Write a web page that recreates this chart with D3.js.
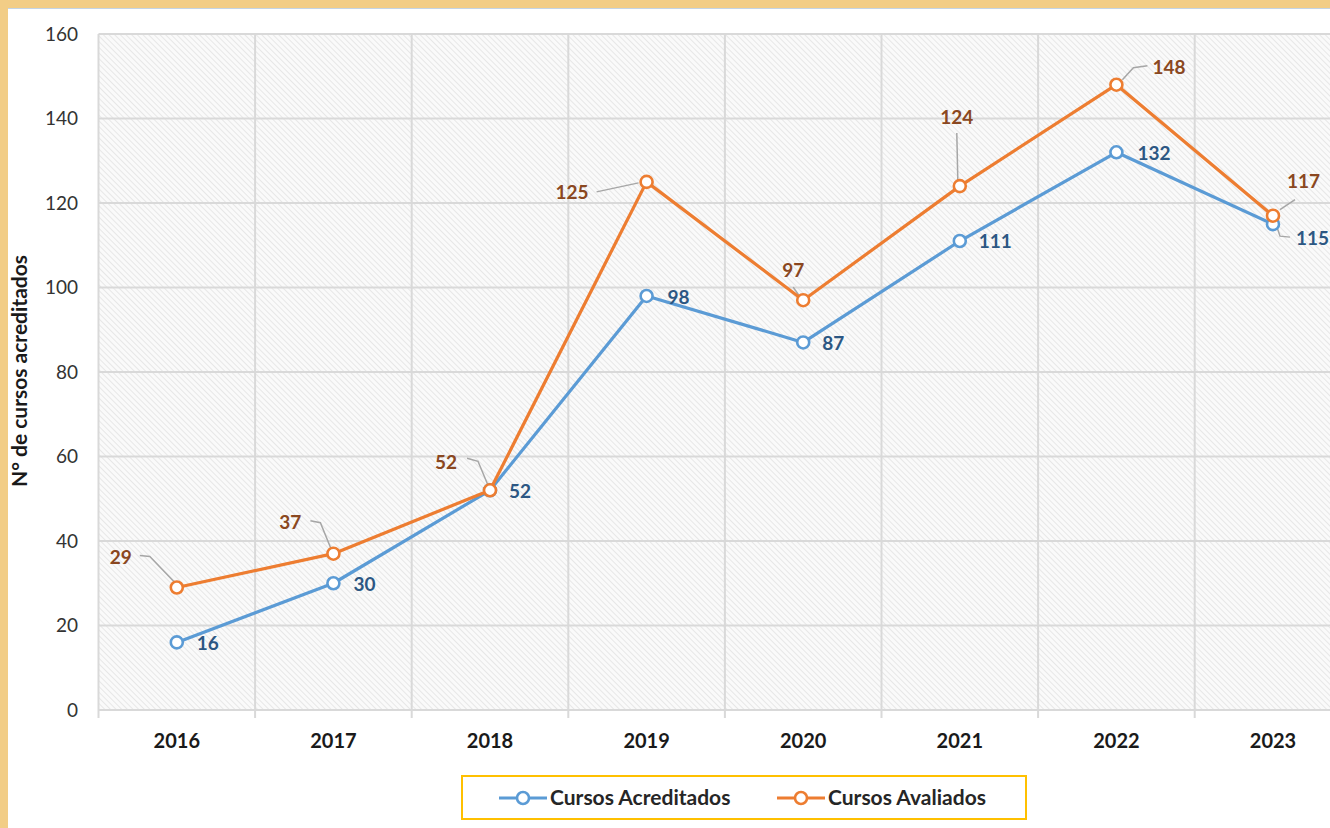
<!DOCTYPE html>
<html>
<head>
<meta charset="utf-8">
<script src="https://cdn.jsdelivr.net/npm/d3@7"></script>
<style>
  body { margin: 0; background: #fff; }
  svg { display: block; font-family: Lato, "Open Sans", sans-serif; }
</style>
</head>
<body>
<div id="chart"></div>
<script>
// data
var years = ["2016", "2017", "2018", "2019", "2020", "2021", "2022", "2023"];
var acreditados = [16, 30, 52, 98, 87, 111, 132, 115];
var avaliados = [29, 37, 52, 125, 97, 124, 148, 117];
var yTicks = [0, 20, 40, 60, 80, 100, 120, 140, 160];

// label placement relative to each point: [dx, dy, leader points]
var blueLabelPos = [
    [20, 1], [20, 1], [19, 1], [21, 1], [19, 1], [19, 0], [21, 1],
    [23, 14, [[4, 3], [7, 12], [17, 13]]]
];
var orangeLabelPos = [
    [-45, -30, [[-2, -5], [-27, -31], [-37, -32]]],
    [-32, -31, [[-2, -4], [-13, -31], [-23, -33]]],
    [-33, -28, [[-2, -5], [-12, -29], [-23, -32]]],
    [-58, 10, [[-8, 1], [-50, 10]]],
    [-10, -30, [[-3, -3], [-10, -13]]],
    [-3, -69, [[-2, -6], [-3, -53]]],
    [36, -17, [[6, -5], [17, -17], [31, -19]]],
    [14, -34, [[7, -6], [22, -16]]]
];

var W = 1330, H = 828;
var margin = {top: 34, left: 98.5, bottom: 118};
var bandW = 156.6;

var svg = d3.select("#chart").append("svg")
    .attr("width", W)
    .attr("height", H);

// frame of the screenshot
svg.append("rect").attr("width", W).attr("height", H).attr("fill", "#f2cd86");
svg.append("rect").attr("x", 8).attr("y", 8).attr("width", W).attr("height", H).attr("fill", "#ffffff");
svg.append("line").attr("x1", 8).attr("x2", W).attr("y1", 8.5).attr("y2", 8.5)
    .attr("stroke", "#c3d4e6").attr("stroke-width", 1);

var defs = svg.append("defs");
var pat = defs.append("pattern")
    .attr("id", "hatch")
    .attr("patternUnits", "userSpaceOnUse")
    .attr("width", 4)
    .attr("height", 4)
    .attr("patternTransform", "rotate(-45)");
pat.append("rect").attr("width", 4).attr("height", 4).attr("fill", "#fafafa");
pat.append("line").attr("x1", 0).attr("y1", 0).attr("x2", 0).attr("y2", 4)
    .attr("stroke", "#e0e0e0").attr("stroke-width", 1.4);

var x = d3.scaleBand()
    .domain(years)
    .range([margin.left, margin.left + bandW * years.length]);

var y = d3.scaleLinear()
    .domain([0, 160])
    .range([H - margin.bottom, margin.top]);

var plotBottom = y(0), plotTop = y(160);

svg.append("rect")
    .attr("x", x.range()[0])
    .attr("y", plotTop)
    .attr("width", x.range()[1] - x.range()[0])
    .attr("height", plotBottom - plotTop)
    .attr("fill", "url(#hatch)");

// horizontal gridlines
svg.append("g").selectAll("line")
    .data(yTicks)
    .enter().append("line")
    .attr("x1", x.range()[0]).attr("x2", x.range()[1])
    .attr("y1", function(d) { return y(d); })
    .attr("y2", function(d) { return y(d); })
    .attr("stroke", "#d9d9d9")
    .attr("stroke-width", 2);

// vertical category boundaries with tick marks below axis
var edges = years.map(function(d) { return x(d); });
svg.append("g").selectAll("line")
    .data(edges)
    .enter().append("line")
    .attr("x1", function(d) { return d; }).attr("x2", function(d) { return d; })
    .attr("y1", plotTop).attr("y2", plotBottom + 8)
    .attr("stroke", "#d9d9d9")
    .attr("stroke-width", 2);

// y axis labels
svg.append("g").selectAll("text")
    .data(yTicks)
    .enter().append("text")
    .attr("x", 78)
    .attr("y", function(d) { return y(d); })
    .attr("dy", "0.35em")
    .attr("text-anchor", "end")
    .attr("font-size", 19)
    .attr("fill", "#333333")
    .text(function(d) { return d; });

svg.append("text")
    .attr("transform", "translate(27," + 371 + ") rotate(-90)")
    .attr("text-anchor", "middle")
    .attr("font-size", 21)
    .attr("font-weight", "bold")
    .attr("fill", "#1a1a1a")
    .text("N° de cursos acreditados");

// x axis labels
svg.append("g").selectAll("text")
    .data(years)
    .enter().append("text")
    .attr("x", function(d) { return x(d) + x.bandwidth() / 2; })
    .attr("y", 741)
    .attr("dy", "0.35em")
    .attr("text-anchor", "middle")
    .attr("font-size", 20)
    .attr("font-weight", "bold")
    .attr("fill", "#1a1a1a")
    .text(function(d) { return d; });

var cx = function(d, i) { return x(years[i]) + x.bandwidth() / 2; };
var line = d3.line()
    .x(function(d, i) { return cx(d, i); })
    .y(function(d) { return y(d); });

function drawSeries(values, color, labelColor, pos) {
    var g = svg.append("g");

    // leader lines first
    g.selectAll(".leader")
        .data(values)
        .enter().filter(function(d, i) { return pos[i][2]; })
        .append("polyline")
        .attr("points", function(d) {
            var i = values.indexOf(d);
            var px = cx(d, i), py = y(d);
            return pos[i][2].map(function(p) { return (px + p[0]) + "," + (py + p[1]); }).join(" ");
        })
        .attr("fill", "none")
        .attr("stroke", "#a6a6a6")
        .attr("stroke-width", 1.5);

    g.append("path")
        .datum(values)
        .attr("d", line)
        .attr("fill", "none")
        .attr("stroke", color)
        .attr("stroke-width", 3.2)
        .attr("stroke-linejoin", "round");

    g.selectAll("circle")
        .data(values)
        .enter().append("circle")
        .attr("cx", cx)
        .attr("cy", function(d) { return y(d); })
        .attr("r", 6)
        .attr("fill", "#fff")
        .attr("stroke", color)
        .attr("stroke-width", 2.6);

    g.selectAll(".lbl")
        .data(values)
        .enter().append("text")
        .attr("x", function(d, i) { return cx(d, i) + pos[i][0]; })
        .attr("y", function(d, i) { return y(d) + pos[i][1]; })
        .attr("dy", "0.35em")
        .attr("text-anchor", function(d, i) { return pos[i][0] < 0 && pos[i][0] > -15 ? "middle" : (pos[i][0] < 0 ? "end" : "start"); })
        .attr("font-size", 19)
        .attr("font-weight", "bold")
        .attr("fill", labelColor)
        .text(function(d) { return d; });
}

drawSeries(acreditados, "#5b9bd5", "#2c5783", blueLabelPos);
drawSeries(avaliados, "#ed7d31", "#8a4720", orangeLabelPos);

// legend
var lg = svg.append("g");
lg.append("rect")
    .attr("x", 462).attr("y", 776)
    .attr("width", 564).attr("height", 43)
    .attr("fill", "#fff")
    .attr("stroke", "#ffc000")
    .attr("stroke-width", 2);

var legendItems = [
    {name: "Cursos Acreditados", color: "#5b9bd5", x: 499},
    {name: "Cursos Avaliados", color: "#ed7d31", x: 777}
];
legendItems.forEach(function(it) {
    lg.append("line")
        .attr("x1", it.x).attr("x2", it.x + 48)
        .attr("y1", 798).attr("y2", 798)
        .attr("stroke", it.color).attr("stroke-width", 3);
    lg.append("circle")
        .attr("cx", it.x + 24).attr("cy", 798).attr("r", 6)
        .attr("fill", "#fff").attr("stroke", it.color).attr("stroke-width", 2.6);
    lg.append("text")
        .attr("x", it.x + 51).attr("y", 798)
        .attr("dy", "0.35em")
        .attr("font-size", 21)
        .attr("font-weight", "bold")
        .attr("fill", "#262626")
        .text(it.name);
});
</script>
</body>
</html>
